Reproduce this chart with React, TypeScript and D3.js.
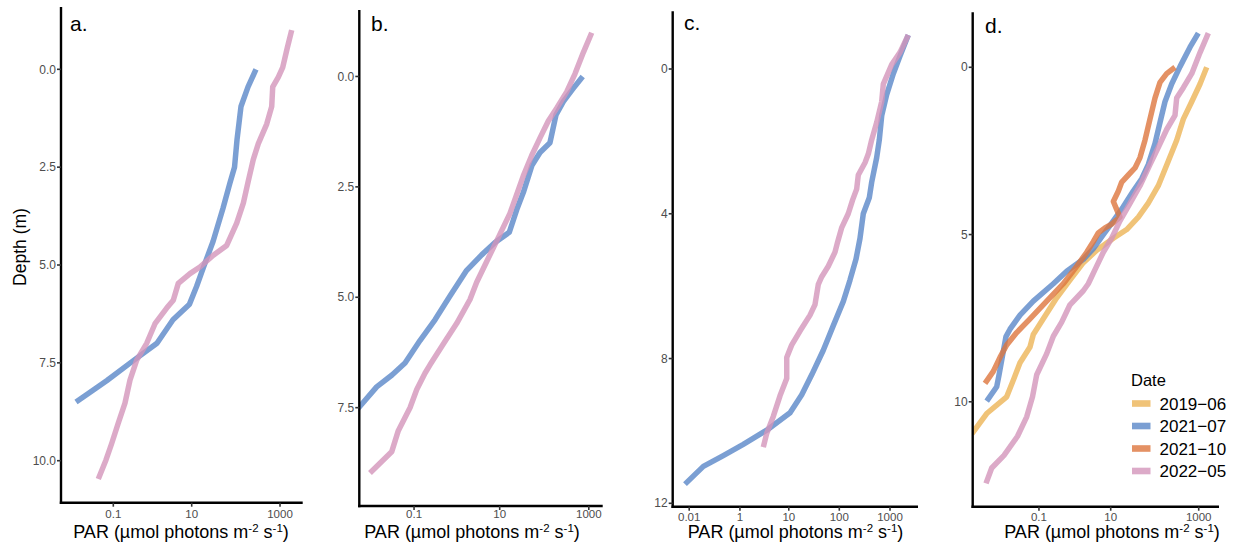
import React from "react";
import * as d3 from "d3";

// ---------- data (depth in m, PAR in µmol photons m-2 s-1) ----------
const dates = ["2019-06", "2021-07", "2021-10", "2022-05"];
const dateLabels = ["2019\u221206", "2021\u221207", "2021\u221210", "2022\u221205"];

// panel a
const aDepth2107 = [0, 0.45, 0.95, 1.8, 2.5, 2.9, 3.55, 4.4, 5.05, 5.55, 6.0, 6.4, 7.0, 7.45, 7.95, 8.2, 8.5];
const aPar2107 = [286, 189, 131, 106.5, 93.5, 73.9, 51.3, 30.5, 18.6, 12.9, 8.9, 3.73, 1.58, 0.404, 0.0523, -0.013, -0.131];
const aDepth2205 = [-1.0, -0.55, -0.05, 0.2, 0.45, 0.95, 1.4, 1.9, 2.3, 2.85, 3.42, 3.93, 4.5, 4.75, 5.05, 5.22, 5.47, 5.9, 6.1, 6.5, 7.0, 7.43, 7.94, 8.53, 9.04, 9.56, 9.98, 10.47];
const aPar2205 = [1838, 1462, 1151, 915, 684, 649, 500, 323, 249, 192, 148, 104.8, 62.2, 31.0, 15.4, 9.15, 4.94, 3.79, 2.67, 1.42, 0.897, 0.505, 0.335, 0.242, 0.15, 0.0862, 0.0461, 0.0078];

// panel b
const bDepth2107 = [0, 0.27, 0.57, 0.87, 1.5, 1.72, 2.01, 2.63, 3.02, 3.53, 3.76, 4.04, 4.39, 4.97, 5.51, 5.98, 6.49, 6.76, 7.03, 7.52];
const bPar2107 = [730, 449, 268, 183.6, 134.6, 80.4, 53.2, 33.9, 24.1, 16.4, 7.84, 3.93, 1.8, 0.748, 0.334, 0.143, 0.0553, 0.0184, -0.003, -0.0403];
const bDepth2205 = [-0.99, -0.54, -0.06, 0.35, 0.72, 1.01, 1.39, 1.79, 2.25, 3.1, 3.65, 4.19, 4.66, 5.05, 5.59, 6.06, 6.53, 6.72, 7.09, 7.5, 8.02, 8.5, 8.98];
const bPar2205 = [1162, 753, 490, 319, 190, 123.4, 80.4, 52.3, 33.9, 17.0, 9.3, 5.1, 3.03, 2.14, 1.07, 0.524, 0.254, 0.191, 0.118, 0.0774, 0.0332, 0.0178, -0.0125];

// panel c
const cDepth2107 = [-0.94, -0.36, 0.13, 0.71, 1.29, 1.96, 2.45, 3.13, 3.56, 4.0, 4.68, 5.26, 5.84, 6.42, 7.09, 7.77, 8.45, 9.0, 9.5, 9.98, 10.37, 10.68, 10.98, 11.47];
const cPar2107 = [2294, 1574, 1161, 860, 686, 615, 546, 435, 390, 297, 256, 213, 162, 120, 76.1, 48.3, 28.5, 18.1, 10.6, 3.61, 1.18, 0.417, 0.109, -0.01];
const cDepth2205 = [-0.94, -0.46, -0.12, 0.42, 0.9, 1.48, 1.96, 2.35, 2.59, 2.93, 3.32, 3.61, 4.0, 4.39, 4.77, 5.06, 5.45, 5.74, 5.95, 6.51, 6.8, 7.24, 7.63, 7.97, 8.55, 9.03, 9.6, 10.07, 10.45];
const cPar2205 = [2294, 1574, 1079, 737, 686, 546, 435, 373, 321, 237, 220, 184, 150, 111, 93, 82.2, 60.6, 45.0, 38.5, 33.1, 26.4, 16.7, 11.4, 9.1, 9.1, 6.68, 4.9, 3.61, 3.08];

// panel d
const dDepth1906 = [0.0, 0.5, 1.03, 1.55, 2.18, 2.8, 3.54, 4.06, 4.48, 4.85, 5.11, 5.47, 5.84, 6.36, 6.89, 7.52, 7.99, 8.36, 8.83, 9.3, 9.85, 10.35, 10.95];
const dPar1906 = [1519, 1071, 694, 448, 317, 205, 121.4, 71.8, 42.7, 23.2, 11.5, 4.75, 2.29, 1.07, 0.466, 0.161, 0.0387, 0.0104, -0.0795, -0.16, -0.3, -1.107, -2.545];
const dDepth2107 = [-1.02, -0.6, -0.02, 0.5, 1.03, 1.65, 2.28, 2.91, 3.33, 3.7, 4.17, 4.59, 5.0, 5.42, 5.74, 6.1, 6.47, 6.99, 7.41, 7.83, 8.05, 9.2, 9.55, 9.98];
const dPar2107 = [980, 635, 377, 244, 172, 132.6, 102, 71.8, 51.0, 32.8, 19.4, 11.5, 6.75, 3.95, 2.29, 0.881, 0.368, 0.0387, -0.0795, -0.23, -0.316, -0.516, -0.6, -1.107];
const dDepth2110 = [0.0, 0.19, 0.45, 0.92, 1.55, 2.18, 2.7, 3.01, 3.22, 3.43, 3.7, 4.01, 4.27, 4.48, 4.69, 4.8, 4.95, 5.21, 5.53, 5.95, 6.47, 6.99, 7.52, 7.93, 8.3, 8.67, 9.09, 9.45];
const dPar2110 = [290, 188, 132.6, 102, 78.5, 60.5, 46.6, 35.9, 25.3, 17.9, 15.0, 11.5, 13.9, 16.3, 10.5, 7.39, 5.17, 3.95, 2.76, 1.58, 0.715, 0.22, 0.0104, -0.121, -0.3, -0.483, -0.744, -1.224];
const dDepth2205 = [-1.02, -0.44, 0.19, 0.61, 0.92, 1.44, 1.86, 2.39, 2.91, 3.54, 4.06, 4.59, 5.11, 5.53, 6.05, 6.47, 6.68, 7.1, 7.62, 8.04, 8.56, 9.19, 9.85, 10.45, 11.03, 11.6, 11.98, 12.44];
const dPar2205 = [1652, 1071, 694, 448, 317, 290, 188, 121.4, 78.5, 46.6, 27.8, 16.3, 10.5, 6.75, 4.33, 3.01, 2.29, 1.07, 0.646, 0.368, 0.22, 0.0735, 0.0315, -0.0147, -0.11, -0.366, -0.821, -1.154];

// tick values / labels
const aYTicks = [0, 2.5, 5, 7.5, 10];
const aYLabels = ["0.0", "2.5", "5.0", "7.5", "10.0"];
const bYTicks = [0, 2.5, 5, 7.5];
const bYLabels = ["0.0", "2.5", "5.0", "7.5"];
const cYTicks = [0, 4, 8, 12];
const cYLabels = ["0", "4", "8", "12"];
const dYTicks = [0, 5, 10];
const dYLabels = ["0", "5", "10"];
const abdXTicks = [0.1, 10, 1000];
const abdXLabels = ["0.1", "10", "1000"];
const cXTicks = [0.01, 1, 10, 100, 1000];
const cXLabels = ["0.01", "1", "10", "100", "1000"];

// ---------- styling / layout ----------
const COLORS: Record<string, string> = {
  "2019-06": "#ECB456",
  "2021-07": "#5A87C8",
  "2021-10": "#DD763D",
  "2022-05": "#D395BA",
};
const FONT = "'Liberation Sans', Arial, Helvetica, sans-serif";

type Series = { date: string; depth: number[]; par: number[] };
type Panel = {
  id: string;
  label: string;
  labelX: number;
  labelY: number;
  x0: number; x1: number; y0: number; y1: number;
  xDomain: [number, number];
  symC: number;
  yDomain: [number, number];
  xTicks: number[]; xLabels: string[]; xLabDy: number;
  yTicks: number[]; yLabels: string[];
  titleX: number;
  series: Series[];
};

const panels: Panel[] = [
  {
    id: "a", label: "a.", labelX: 70, labelY: 31,
    x0: 61, x1: 302.7, y0: 7, y1: 502.7,
    xDomain: [-0.369, 3257], symC: 0.07, yDomain: [-1.592, 11.073],
    xTicks: abdXTicks, xLabels: abdXLabels, xLabDy: 15.5,
    yTicks: aYTicks, yLabels: aYLabels, titleX: 181,
    series: [
      { date: "2021-07", depth: aDepth2107, par: aPar2107 },
      { date: "2022-05", depth: aDepth2205, par: aPar2205 },
    ],
  },
  {
    id: "b", label: "b.", labelX: 371, labelY: 31,
    x0: 359.3, x1: 602.7, y0: 10, y1: 506,
    xDomain: [-0.0364, 2051], symC: 0.02, yDomain: [-1.505, 9.7265],
    xTicks: abdXTicks, xLabels: abdXLabels, xLabDy: 11.5,
    yTicks: bYTicks, yLabels: bYLabels, titleX: 472,
    series: [
      { date: "2021-07", depth: bDepth2107, par: bPar2107 },
      { date: "2022-05", depth: bDepth2205, par: bPar2205 },
    ],
  },
  {
    id: "c", label: "c.", labelX: 684, labelY: 30,
    x0: 672.7, x1: 918, y0: 11.2, y1: 506.7,
    xDomain: [-0.0923, 3563], symC: 0.1, yDomain: [-1.597, 12.094],
    xTicks: cXTicks, xLabels: cXLabels, xLabDy: 14.5,
    yTicks: cYTicks, yLabels: cYLabels, titleX: 795.5,
    series: [
      { date: "2021-07", depth: cDepth2107, par: cPar2107 },
      { date: "2022-05", depth: cDepth2205, par: cPar2205 },
    ],
  },
  {
    id: "d", label: "d.", labelX: 985, labelY: 33,
    x0: 972.7, x1: 1219, y0: 12.3, y1: 506.7,
    xDomain: [-2.45, 2883], symC: 0.14, yDomain: [-1.644, 13.136],
    xTicks: abdXTicks, xLabels: abdXLabels, xLabDy: 14.5,
    yTicks: dYTicks, yLabels: dYLabels, titleX: 1112,
    series: [
      { date: "2019-06", depth: dDepth1906, par: dPar1906 },
      { date: "2021-07", depth: dDepth2107, par: dPar2107 },
      { date: "2021-10", depth: dDepth2110, par: dPar2110 },
      { date: "2022-05", depth: dDepth2205, par: dPar2205 },
    ],
  },
];

function XTitle({ x, y }: { x: number; y: number }) {
  return (
    <text x={x} y={y} textAnchor="middle" fontFamily={FONT} fontSize={18} fill="#000">
      PAR (µmol photons m
      <tspan fontSize={11.5} dy={-6.5}>-2</tspan>
      <tspan fontSize={18} dy={6.5}> s</tspan>
      <tspan fontSize={11.5} dy={-6.5}>-1</tspan>
      <tspan fontSize={18} dy={6.5}>)</tspan>
    </text>
  );
}

function PanelView({ p }: { p: Panel }) {
  const xs = d3.scaleSymlog().constant(p.symC).domain(p.xDomain).range([p.x0, p.x1]);
  const ys = d3.scaleLinear().domain(p.yDomain).range([p.y0, p.y1]);
  const line = d3
    .line<[number, number]>()
    .x((d) => xs(d[0]))
    .y((d) => ys(d[1]));
  const clipId = `clip-${p.id}`;
  return (
    <g>
      <defs>
        <clipPath id={clipId}>
          <rect x={p.x0} y={p.y0} width={p.x1 - p.x0} height={p.y1 - p.y0} />
        </clipPath>
      </defs>
      <g clipPath={`url(#${clipId})`}>
        {p.series.map((s) => (
          <path
            key={s.date}
            d={line(s.par.map((v, i) => [v, s.depth[i]] as [number, number])) || ""}
            fill="none"
            stroke={COLORS[s.date]}
            strokeOpacity={0.8}
            strokeWidth={5.5}
            strokeLinejoin="round"
            strokeLinecap="butt"
          />
        ))}
      </g>
      {/* axes */}
      <line x1={p.x0} x2={p.x0} y1={p.y0} y2={p.y1 + 1.2} stroke="#000" strokeWidth={2.4} />
      <line x1={p.x0 - 1.2} x2={p.x1} y1={p.y1} y2={p.y1} stroke="#000" strokeWidth={2.4} />
      {p.yTicks.map((t, i) => (
        <g key={`y${i}`}>
          <line x1={p.x0 - 4} x2={p.x0} y1={ys(t)} y2={ys(t)} stroke="#333" strokeWidth={1.6} />
          <text
            x={p.x0 - 5}
            y={ys(t)}
            dy="0.35em"
            textAnchor="end"
            fontFamily={FONT}
            fontSize={12}
            fill="#4D4D4D"
          >
            {p.yLabels[i]}
          </text>
        </g>
      ))}
      {p.xTicks.map((t, i) => (
        <g key={`x${i}`}>
          <line x1={xs(t)} x2={xs(t)} y1={p.y1} y2={p.y1 + 4} stroke="#333" strokeWidth={1.6} />
          <text
            x={xs(t)}
            y={p.y1 + p.xLabDy}
            textAnchor="middle"
            fontFamily={FONT}
            fontSize={11.5}
            fill="#4D4D4D"
          >
            {p.xLabels[i]}
          </text>
        </g>
      ))}
      <XTitle x={p.titleX} y={538} />
      <text x={p.labelX} y={p.labelY} fontFamily={FONT} fontSize={21} fill="#000">
        {p.label}
      </text>
    </g>
  );
}

export default function App() {
  const legendX = 1132;
  const legendRows = [403.5, 426, 448.5, 471];
  return (
    <svg
      width={1233}
      height={548}
      viewBox="0 0 1233 548"
      style={{ position: "absolute", left: 0, top: 0, background: "#fff" }}
    >
      <rect x={0} y={0} width={1233} height={548} fill="#fff" />
      {panels.map((p) => (
        <PanelView key={p.id} p={p} />
      ))}
      <text
        x={19.5}
        y={247}
        transform="rotate(-90 19.5 247)"
        textAnchor="middle"
        dy="0.35em"
        fontFamily={FONT}
        fontSize={17.5}
        fill="#000"
      >
        Depth (m)
      </text>
      {/* legend */}
      <text x={1131} y={385.5} fontFamily={FONT} fontSize={16.5} fill="#000">
        Date
      </text>
      {dates.map((dt, i) => (
        <g key={dt}>
          <rect
            x={legendX}
            y={legendRows[i] - 3.3}
            width={18.5}
            height={6.6}
            fill={COLORS[dt]}
            fillOpacity={0.8}
          />
          <text x={1159.5} y={legendRows[i] + 6} fontFamily={FONT} fontSize={17} fill="#000">
            {dateLabels[i]}
          </text>
        </g>
      ))}
    </svg>
  );
}
